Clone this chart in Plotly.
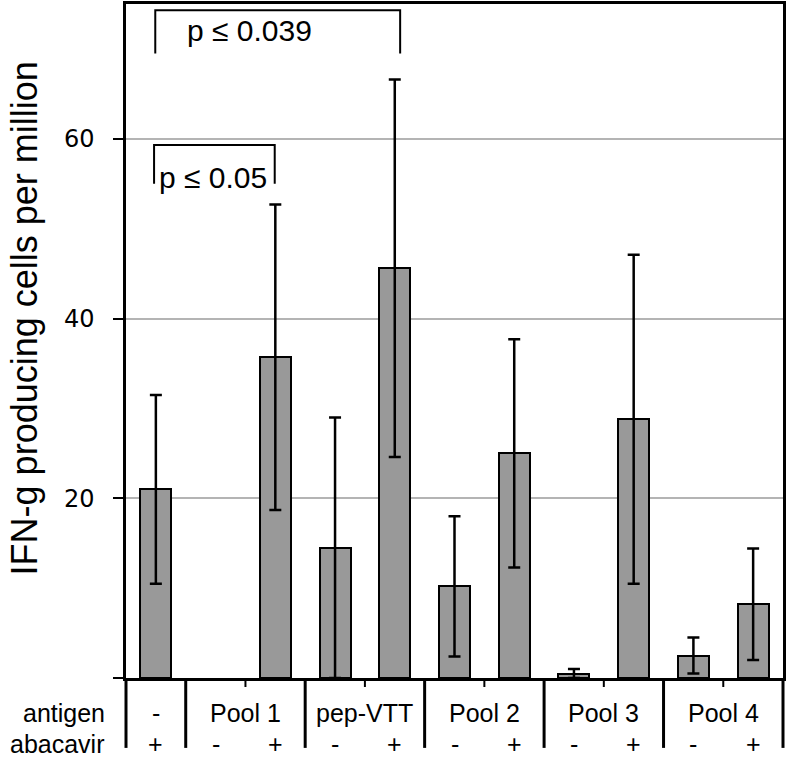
import plotly.graph_objects as go

# ---- data ----
groups = ["-", "Pool 1", "pep-VTT", "Pool 2", "Pool 3", "Pool 4"]
group_slots = [[0], [1, 2], [3, 4], [5, 6], [7, 8], [9, 10]]
abacavir = ["+", "-", "+", "-", "+", "-", "+", "-", "+", "-", "+"]
values = [21.0, None, 35.7, 14.5, 45.6, 10.2, 25.0, 0.5, 28.8, 2.5, 8.2]
errors = [10.5, None, 17.0, 14.5, 21.0, 7.8, 12.7, 0.5, 18.3, 2.0, 6.2]
y_ticks = [0, 20, 40, 60]
y_ticktext = ["", "20", "40", "60"]
y_title = "IFN-g producing cells per million"
row_labels = ["antigen", "abacavir"]
sig_pairs = [(0, 2, "p ≤ 0.05"), (0, 4, "p ≤ 0.039")]

n = len(abacavir)
xs = list(range(n))

W, H = 787, 765
ML, MR, MT, MB = 126, 1, 3, 87
plot_h = H - MT - MB
plot_w = W - ML - MR
FONT = "Liberation Sans, Arial"

fig = go.Figure()
fig.add_trace(go.Bar(
    x=xs, y=values, width=0.52,
    marker=dict(color="#999999", line=dict(color="black", width=2)),
    error_y=dict(type="data", array=errors, visible=True,
                 color="black", thickness=2.5, width=6),
    showlegend=False, hoverinfo="skip",
))

def py(px_from_bottom):
    return px_from_bottom / plot_h

shapes = []
# group separators / ticks below the axis
long_k = [0] + [max(s) + 1 for s in group_slots]
for k in range(n + 1):
    if k in long_k:
        shapes.append(dict(type="line", xref="paper", yref="paper",
                           x0=k / n, x1=k / n, y0=0, y1=py(-70),
                           line=dict(color="black", width=3)))
    else:
        shapes.append(dict(type="line", xref="paper", yref="paper",
                           x0=k / n, x1=k / n, y0=0, y1=py(-9),
                           line=dict(color="black", width=2)))

annotations = []
# group labels
for g, slots in zip(groups, group_slots):
    cx = (sum(slots) / len(slots) + 0.5) / n
    annotations.append(dict(text=g, x=cx, y=py(-35), xref="paper", yref="paper",
                            showarrow=False, xanchor="center", yanchor="middle",
                            font=dict(family=FONT, size=25, color="black")))
for i, s in enumerate(abacavir):
    annotations.append(dict(text=s, x=(i + 0.5) / n, y=py(-66), xref="paper", yref="paper",
                            showarrow=False, xanchor="center", yanchor="middle",
                            font=dict(family=FONT, size=25, color="black")))
for j, lab in enumerate(row_labels):
    annotations.append(dict(text=lab, x=(107 - ML) / plot_w, y=py(-35 - 31 * j),
                            xref="paper", yref="paper", showarrow=False,
                            xanchor="right", yanchor="middle",
                            font=dict(family=FONT, size=25, color="black")))

# significance brackets
brackets = [(-0.03, 1.99, 55.0, 59.3, 0.96, 55.7), (-0.01, 4.09, 69.5, 74.3, 1.575, 72.1)]
for (a, b, txt), (x0, x1, ylo, yhi, tx, ty) in zip(sig_pairs, brackets):
    shapes.append(dict(type="path", xref="x", yref="y",
                       path=f"M {x0},{ylo} L {x0},{yhi} L {x1},{yhi} L {x1},{ylo}",
                       line=dict(color="black", width=2)))
    annotations.append(dict(text=txt, x=tx, y=ty, xref="x", yref="y", showarrow=False,
                            xanchor="center", yanchor="middle",
                            font=dict(family=FONT, size=30, color="black")))

# y title
annotations.append(dict(text=y_title, x=(24 - ML) / plot_w, y=(678 - 58) / plot_h,
                        xref="paper", yref="paper", showarrow=False, textangle=-90,
                        xanchor="center", yanchor="top",
                        font=dict(family=FONT, size=36, color="black")))

fig.update_layout(
    width=W, height=H,
    margin=dict(l=ML, r=MR, t=MT, b=MB, pad=0),
    plot_bgcolor="white", paper_bgcolor="white",
    shapes=shapes, annotations=annotations,
    bargap=0,
)
fig.update_xaxes(range=[-0.5, n - 0.5], showticklabels=False, ticks="",
                 showgrid=False, zeroline=False,
                 showline=True, linecolor="black", linewidth=2.5, mirror=True)
fig.update_yaxes(range=[0, 75], tickvals=y_ticks, ticktext=y_ticktext,
                 ticks="outside", ticklen=10, tickwidth=2, tickcolor="black",
                 ticklabelstandoff=14,
                 tickfont=dict(family="DejaVu Sans", size=24, color="black"),
                 showgrid=True, gridcolor="#b4b4b4", gridwidth=2, zeroline=False,
                 showline=True, linecolor="black", linewidth=2.5, mirror=True)

fig.write_html("out.html", config={"displayModeBar": False},
               post_script="document.body.style.margin='0';document.body.style.overflow='hidden';")
